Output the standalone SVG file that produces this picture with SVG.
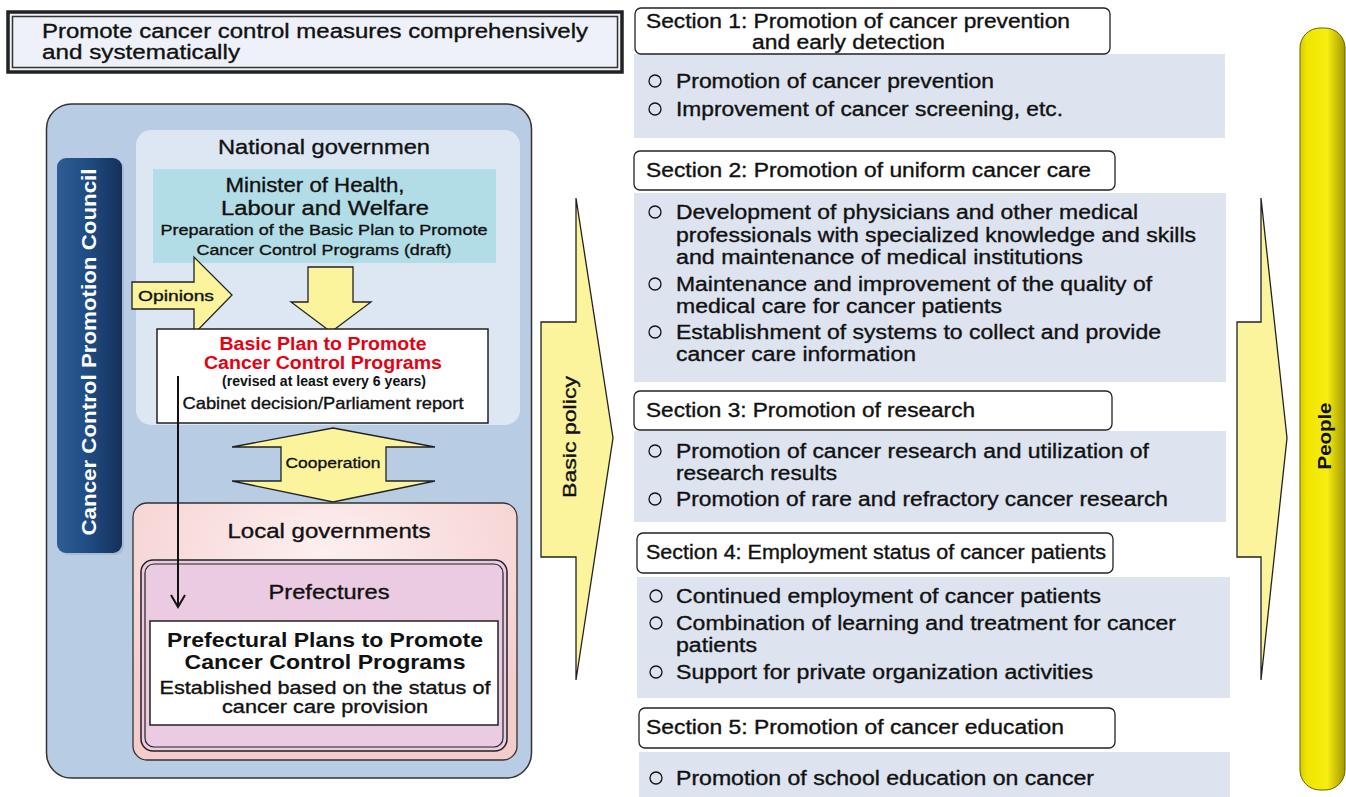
<svg xmlns="http://www.w3.org/2000/svg" width="1346" height="797" viewBox="0 0 1346 797">
<defs>
<style>
text{font-family:"Liberation Sans",Arial,sans-serif;fill:#111}
.m{stroke:#111;stroke-width:0.35}
.t20{font-size:20.5px}
.t19{font-size:20px}
.t18{font-size:18.5px}
.t16{font-size:16.5px}
.t15{font-size:15.5px}
.b{font-weight:bold}
.c{text-anchor:middle}
.red{fill:#e60012;font-weight:bold;font-size:18px}
.hdr{fill:#fff;stroke:#222;stroke-width:1.3}
.panel{fill:#dde4f0}
.bul{fill:none;stroke:#111;stroke-width:1.3}
.yarrow{fill:#fbf49c;stroke:#222;stroke-width:1.3;stroke-linejoin:miter}
.item{font-size:20px;stroke:#111;stroke-width:0.35}
</style>
<radialGradient id="pink" cx="0.5" cy="0.2" r="0.7">
<stop offset="0" stop-color="#fdf0f0"/>
<stop offset="1" stop-color="#f5cccc"/>
</radialGradient>
<linearGradient id="navy" x1="0" y1="0" x2="1" y2="0">
<stop offset="0" stop-color="#2d5d94"/>
<stop offset="0.5" stop-color="#1f4b82"/>
<stop offset="1" stop-color="#14305a"/>
</linearGradient>
<linearGradient id="yel" x1="0" y1="0" x2="1" y2="0">
<stop offset="0" stop-color="#d8cd00"/>
<stop offset="0.15" stop-color="#efe500"/>
<stop offset="0.6" stop-color="#f7ee12"/>
<stop offset="1" stop-color="#a39900"/>
</linearGradient>
<marker id="open" markerWidth="16" markerHeight="16" refX="14" refY="8" orient="auto" markerUnits="userSpaceOnUse" viewBox="0 0 16 16">
<path d="M2,1 L14,8 L2,15" fill="none" stroke="#111" stroke-width="2"/>
</marker>
</defs>
<rect width="1346" height="797" fill="#fff"/>

<g id="title">
<rect x="8" y="12" width="614" height="60" fill="#eef1f9" stroke="#222" stroke-width="3.5"/>
<rect x="12.5" y="16.5" width="605" height="51" fill="none" stroke="#333" stroke-width="1.5"/>
<text class="t20 m" x="42" y="38" textLength="546" lengthAdjust="spacingAndGlyphs">Promote cancer control measures comprehensively</text>
<text class="t20 m" x="42" y="59" textLength="198" lengthAdjust="spacingAndGlyphs">and systematically</text>
</g>

<g id="main-frame">
<rect x="46.5" y="104" width="485" height="674" rx="25" fill="#b8cde4" stroke="#333" stroke-width="1.5"/>
</g>

<g id="council">
<rect x="59" y="160" width="65" height="395" rx="9" fill="#9fb3cc" opacity="0.7"/>
<rect x="57" y="158" width="65" height="395" rx="9" fill="url(#navy)"/>
<text class="t20 b c" transform="translate(96,352) rotate(-90)" style="fill:#fff" textLength="367" lengthAdjust="spacingAndGlyphs">Cancer Control Promotion Council</text>
</g>

<g id="national">
<rect x="136" y="130" width="384" height="295" rx="15" fill="#dde7f3"/>
<text class="t20 m c" x="324" y="154" textLength="212" lengthAdjust="spacingAndGlyphs">National governmen</text>
</g>

<g id="minister">
<rect x="153" y="169" width="343" height="94" fill="#b2dde7"/>
<text class="t20 m c" x="315" y="192" textLength="179" lengthAdjust="spacingAndGlyphs">Minister of Health,</text>
<text class="t20 m c" x="325" y="215" textLength="208" lengthAdjust="spacingAndGlyphs">Labour and Welfare</text>
<text class="t15 m c" x="324" y="235" textLength="327" lengthAdjust="spacingAndGlyphs">Preparation of the Basic Plan to Promote</text>
<text class="t15 m c" x="324" y="255" textLength="255" lengthAdjust="spacingAndGlyphs">Cancer Control Programs (draft)</text>
</g>

<g id="opinions">
<polygon class="yarrow" points="132,282 194,282 194,257 232,295 194,334 194,309 132,309"/>
<text class="t15 m" x="138" y="301" textLength="76" lengthAdjust="spacingAndGlyphs">Opinions</text>
</g>

<g id="down-arrow">
<polygon class="yarrow" points="308,267 353,267 353,302 371,302 331,332 291,302 308,302"/>
</g>

<g id="basic-plan">
<rect x="157" y="329" width="331" height="94" fill="#fff" stroke="#222" stroke-width="1.5"/>
<text class="red c" x="323" y="350" textLength="207" lengthAdjust="spacingAndGlyphs">Basic Plan to Promote</text>
<text class="red c" x="323" y="369" textLength="238" lengthAdjust="spacingAndGlyphs">Cancer Control Programs</text>
<text class="b c" x="324" y="386" style="font-size:14px" textLength="204" lengthAdjust="spacingAndGlyphs">(revised at least every 6 years)</text>
<text class="t16 m c" x="323" y="409" textLength="281" lengthAdjust="spacingAndGlyphs">Cabinet decision/Parliament report</text>
</g>

<g id="cooperation">
<polygon class="yarrow" points="333,428 435,447 386,447 386,481 435,481 333,502 232,481 281,481 281,447 232,447"/>
<text class="t15 m c" x="333" y="468" textLength="95" lengthAdjust="spacingAndGlyphs">Cooperation</text>
</g>

<g id="local">
<rect x="133" y="503" width="384" height="257" rx="14" fill="url(#pink)" stroke="#333" stroke-width="1.3"/>
<text class="t20 m c" x="329" y="538" textLength="203" lengthAdjust="spacingAndGlyphs">Local governments</text>
</g>

<g id="prefectures">
<rect x="141" y="560" width="366" height="191" rx="12" fill="#ebcbe1" stroke="#222" stroke-width="1.5"/>
<rect x="145" y="564" width="358" height="183" rx="9" fill="none" stroke="#222" stroke-width="1.2"/>
<text class="t20 m c" x="329" y="599" textLength="121" lengthAdjust="spacingAndGlyphs">Prefectures</text>
</g>

<g id="pref-plans">
<rect x="150" y="621" width="348" height="104" fill="#fff" stroke="#222" stroke-width="1.5"/>
<text class="t20 b c" x="325" y="647" textLength="316" lengthAdjust="spacingAndGlyphs">Prefectural Plans to Promote</text>
<text class="t20 b c" x="325" y="669" textLength="281" lengthAdjust="spacingAndGlyphs">Cancer Control Programs</text>
<text class="t18 m c" x="325" y="694" textLength="331" lengthAdjust="spacingAndGlyphs">Established based on the status of</text>
<text class="t18 m c" x="325" y="713" textLength="206" lengthAdjust="spacingAndGlyphs">cancer care provision</text>
</g>

<g id="connectors">
<line x1="178" y1="376" x2="178" y2="607" stroke="#111" stroke-width="2" marker-end="url(#open)"/>
</g>

<g id="basic-policy">
<polygon class="yarrow" points="541,322 576,322 576,198 613,438 576,680 576,557 541,557"/>
<text class="t18 m c" transform="translate(576,437) rotate(-90)" textLength="122" lengthAdjust="spacingAndGlyphs">Basic policy</text>
</g>

<g id="section1">
<rect class="panel" x="634" y="54" width="591" height="84"/>
<rect class="hdr" x="635" y="8" width="475" height="46" rx="6"/>
<text class="t19 m" x="646" y="28" textLength="424" lengthAdjust="spacingAndGlyphs">Section 1: Promotion of cancer prevention</text>
<text class="t19 m" x="752" y="49" textLength="193" lengthAdjust="spacingAndGlyphs">and early detection</text>
<circle class="bul" cx="655" cy="81" r="6"/>
<text class="item" x="676" y="88" textLength="318" lengthAdjust="spacingAndGlyphs">Promotion of cancer prevention</text>
<circle class="bul" cx="655" cy="109" r="6"/>
<text class="item" x="676" y="116" textLength="387" lengthAdjust="spacingAndGlyphs">Improvement of cancer screening, etc.</text>
</g>

<g id="section2">
<rect class="panel" x="634" y="193" width="592" height="189"/>
<rect class="hdr" x="634" y="151" width="481" height="39" rx="6"/>
<text class="t19 m" x="646" y="177" textLength="445" lengthAdjust="spacingAndGlyphs">Section 2: Promotion of uniform cancer care</text>
<circle class="bul" cx="655" cy="212" r="6"/>
<text class="item" x="676" y="219" textLength="462" lengthAdjust="spacingAndGlyphs">Development of physicians and other medical</text>
<text class="item" x="676" y="242" textLength="520" lengthAdjust="spacingAndGlyphs">professionals with specialized knowledge and skills</text>
<text class="item" x="676" y="264" textLength="407" lengthAdjust="spacingAndGlyphs">and maintenance of medical institutions</text>
<circle class="bul" cx="655" cy="284" r="6"/>
<text class="item" x="676" y="291" textLength="476" lengthAdjust="spacingAndGlyphs">Maintenance and improvement of the quality of</text>
<text class="item" x="676" y="313" textLength="326" lengthAdjust="spacingAndGlyphs">medical care for cancer patients</text>
<circle class="bul" cx="655" cy="332" r="6"/>
<text class="item" x="676" y="339" textLength="485" lengthAdjust="spacingAndGlyphs">Establishment of systems to collect and provide</text>
<text class="item" x="676" y="361" textLength="240" lengthAdjust="spacingAndGlyphs">cancer care information</text>
</g>

<g id="section3">
<rect class="panel" x="634" y="431" width="592" height="91"/>
<rect class="hdr" x="634" y="391" width="478" height="39" rx="6"/>
<text class="t19 m" x="646" y="417" textLength="329" lengthAdjust="spacingAndGlyphs">Section 3: Promotion of research</text>
<circle class="bul" cx="655" cy="451" r="6"/>
<text class="item" x="676" y="458" textLength="473" lengthAdjust="spacingAndGlyphs">Promotion of cancer research and utilization of</text>
<text class="item" x="676" y="480" textLength="161" lengthAdjust="spacingAndGlyphs">research results</text>
<circle class="bul" cx="655" cy="499" r="6"/>
<text class="item" x="676" y="506" textLength="492" lengthAdjust="spacingAndGlyphs">Promotion of rare and refractory cancer research</text>
</g>

<g id="section4">
<rect class="panel" x="637" y="577" width="593" height="121"/>
<rect class="hdr" x="637" y="533" width="476" height="40" rx="6"/>
<text class="t19 m" x="646" y="559" textLength="460" lengthAdjust="spacingAndGlyphs">Section 4: Employment status of cancer patients</text>
<circle class="bul" cx="656" cy="596" r="6"/>
<text class="item" x="676" y="603" textLength="425" lengthAdjust="spacingAndGlyphs">Continued employment of cancer patients</text>
<circle class="bul" cx="656" cy="623" r="6"/>
<text class="item" x="676" y="630" textLength="500" lengthAdjust="spacingAndGlyphs">Combination of learning and treatment for cancer</text>
<text class="item" x="676" y="652" textLength="81" lengthAdjust="spacingAndGlyphs">patients</text>
<circle class="bul" cx="656" cy="672" r="6"/>
<text class="item" x="676" y="679" textLength="417" lengthAdjust="spacingAndGlyphs">Support for private organization activities</text>
</g>

<g id="section5">
<rect class="panel" x="639" y="752" width="591" height="45"/>
<rect class="hdr" x="639" y="708" width="476" height="40" rx="6"/>
<text class="t19 m" x="646" y="734" textLength="418" lengthAdjust="spacingAndGlyphs">Section 5: Promotion of cancer education</text>
<circle class="bul" cx="656" cy="778" r="6"/>
<text class="item" x="676" y="785" textLength="418" lengthAdjust="spacingAndGlyphs">Promotion of school education on cancer</text>
</g>

<g id="people-arrow">
<polygon class="yarrow" points="1237,322 1261,322 1261,198 1287,438 1261,680 1261,557 1237,557"/>
</g>

<g id="people">
<rect x="1300" y="28" width="45" height="762" rx="20" fill="url(#yel)" stroke="#6b6400" stroke-width="1"/>
<text class="t18 b c" transform="translate(1331,436) rotate(-90)" textLength="67" lengthAdjust="spacingAndGlyphs">People</text>
</g>
</svg>
